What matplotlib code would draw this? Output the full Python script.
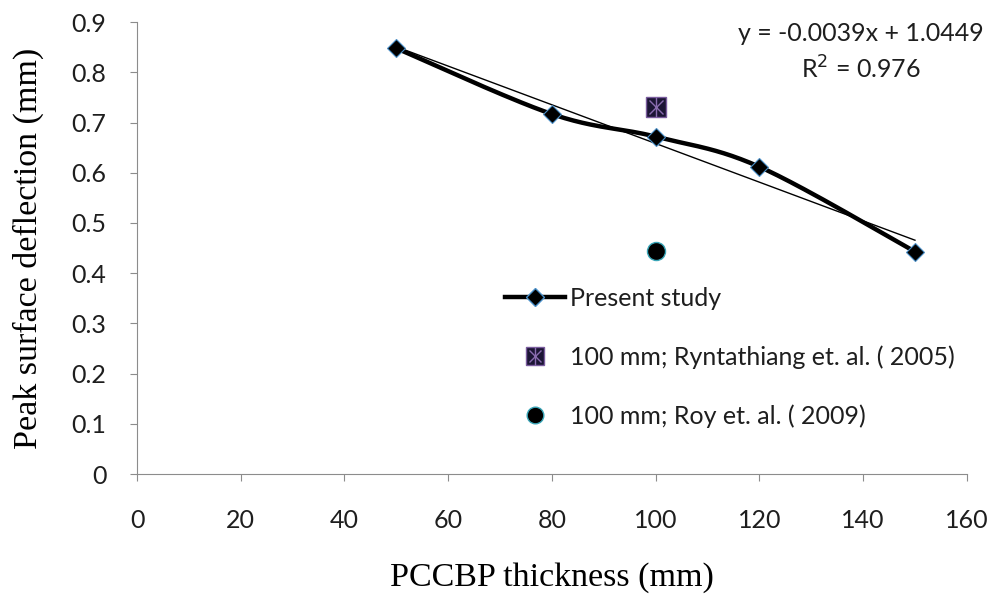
import numpy as np
import matplotlib
matplotlib.use("Agg")
import matplotlib.pyplot as plt
from matplotlib.legend_handler import HandlerTuple

# data
thickness = [50, 80, 100, 120, 150]
deflection = [0.848, 0.717, 0.672, 0.612, 0.443]
ryn_x, ryn_y = [100], [0.731]
roy_x, roy_y = [100], [0.445]
x_ticks = [0, 20, 40, 60, 80, 100, 120, 140, 160]
y_ticks = [0, 0.1, 0.2, 0.3, 0.4, 0.5, 0.6, 0.7, 0.8, 0.9]

SANS = "Lato"
FS = 18
TXT = "#1e1e1e"


def smooth_curve(x, y, n=40, tension=1 / 6):
    # Catmull-Rom style bezier, similar to spreadsheet smoothed lines
    x = np.asarray(x, float)
    y = np.asarray(y, float)
    px = np.concatenate([[x[0]], x, [x[-1]]])
    py = np.concatenate([[y[0]], y, [y[-1]]])
    out_x, out_y = [], []
    t = np.linspace(0, 1, n)
    for i in range(1, len(px) - 2):
        p0 = np.array([px[i], py[i]])
        p3 = np.array([px[i + 1], py[i + 1]])
        p1 = p0 + tension * (np.array([px[i + 1], py[i + 1]]) - np.array([px[i - 1], py[i - 1]]))
        p2 = p3 - tension * (np.array([px[i + 2], py[i + 2]]) - np.array([px[i], py[i]]))
        b = ((1 - t) ** 3)[:, None] * p0 + (3 * (1 - t) ** 2 * t)[:, None] * p1 \
            + (3 * (1 - t) * t ** 2)[:, None] * p2 + (t ** 3)[:, None] * p3
        out_x.extend(b[:, 0])
        out_y.extend(b[:, 1])
    return out_x, out_y


fig = plt.figure(figsize=(9.95, 6.0), dpi=100)
ax = fig.add_axes([0.1377, 0.21, 0.834, 0.753])

sx, sy = smooth_curve(thickness, deflection)
ax.plot(sx, sy, color="black", lw=3.2, zorder=3)
ax.plot(thickness, deflection, ls="none", marker="D", ms=9,
        mfc="black", mec="#4a8fc8", mew=0.8, zorder=4)

# linear trend line
slope, intercept = np.polyfit(thickness, deflection, 1)
tx = np.array([thickness[0], thickness[-1]])
ax.plot(tx, slope * tx + intercept, color="black", lw=1.0, zorder=2)

ax.plot(ryn_x, ryn_y, ls="none", marker="s", ms=14, mfc="#1c1535",
        mec="#7a5c9e", mew=1.0, zorder=5)
ax.plot(ryn_x, ryn_y, ls="none", marker="x", ms=10, mec="#8a6cb0", mew=1.0, zorder=6)
ax.plot(ryn_x, ryn_y, ls="none", marker="|", ms=14, mec="#8a6cb0", mew=1.0, zorder=6)

ax.plot(roy_x, roy_y, ls="none", marker="o", ms=13, mfc="black",
        mec="#3aa6b8", mew=1.0, zorder=5)

ax.set_xlim(0, 160)
ax.set_ylim(0, 0.9)
ax.set_xticks(x_ticks)
ax.set_yticks(y_ticks)
ax.set_yticklabels(["0"] + [f"{v:.1f}" for v in y_ticks[1:]])
for sp in ["top", "right"]:
    ax.spines[sp].set_visible(False)
for sp in ["left", "bottom"]:
    ax.spines[sp].set_color("#8c8c8c")
ax.tick_params(direction="out", length=5, color="#8c8c8c", labelsize=FS,
               labelcolor=TXT)
ax.tick_params(axis="x", pad=20)
ax.tick_params(axis="y", pad=17)
for lab in ax.get_xticklabels() + ax.get_yticklabels():
    lab.set_family(SANS)

ax.set_xlabel("PCCBP thickness (mm)", family="Liberation Serif", fontsize=24.5, labelpad=22)
ax.set_ylabel("Peak surface deflection (mm)", family="Liberation Serif", fontsize=24.5, labelpad=20)

ax.text(0.872, 1.0, "y = -0.0039x + 1.0449\nR$^2$ = 0.976", transform=ax.transAxes,
        ha="center", va="top", fontsize=FS, family=SANS, color=TXT,
        linespacing=1.45)

# legend
h1 = plt.Line2D([], [], color="black", lw=3.2, marker="D", ms=9, mfc="black", mec="#4a8fc8")
h2a = plt.Line2D([], [], ls="none", marker="s", ms=13, mfc="#1c1535", mec="#7a5c9e")
h2b = plt.Line2D([], [], ls="none", marker="x", ms=9, mec="#8a6cb0")
h2c = plt.Line2D([], [], ls="none", marker="|", ms=13, mec="#8a6cb0")
h3 = plt.Line2D([], [], ls="none", marker="o", ms=12, mfc="black", mec="#3aa6b8")
leg = ax.legend([h1, (h2a, h2b, h2c), h3],
                ["Present study", "100 mm; Ryntathiang et. al. ( 2005)", "100 mm; Roy et. al. ( 2009)"],
                handler_map={tuple: HandlerTuple(ndivide=1, pad=0)},
                loc="upper left", bbox_to_anchor=(0.432, 0.437), frameon=False,
                prop={"family": SANS, "size": FS}, labelspacing=1.42,
                handlelength=2.4, handletextpad=0.2, borderaxespad=0)
for t in leg.get_texts():
    t.set_color(TXT)

fig.savefig("out.png", dpi=100)
